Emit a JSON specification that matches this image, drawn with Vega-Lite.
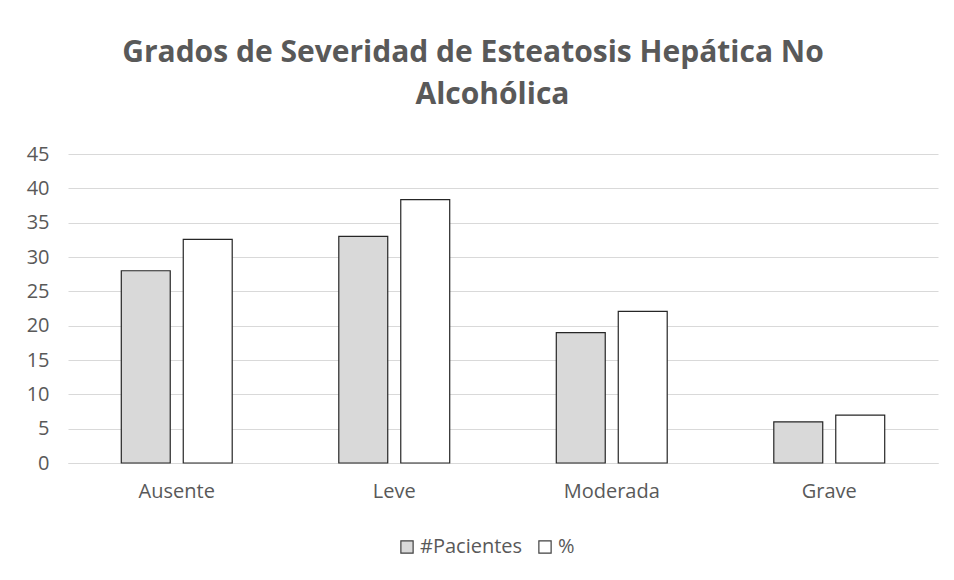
{
  "$schema": "https://vega.github.io/schema/vega-lite/v6.json",
  "autosize": {"type": "none"},
  "width": 870,
  "height": 309,
  "padding": {"left": 68, "top": 154, "right": 16, "bottom": 117},
  "background": "white",
  "title": {
    "text": ["Grados de Severidad de Esteatosis Hepática No", "\u200b\u00a0\u00a0\u00a0\u00a0\u00a0Alcohólica"],
    "anchor": "middle",
    "font": "Open Sans",
    "fontSize": 30,
    "fontWeight": "bold",
    "color": "#595959",
    "lineHeight": 42,
    "offset": 34,
    "dx": -30
  },
  "data": {
    "values": [
      {"grado": "Ausente", "serie": "#Pacientes", "valor": 28},
      {"grado": "Ausente", "serie": "%", "valor": 32.56},
      {"grado": "Leve", "serie": "#Pacientes", "valor": 33},
      {"grado": "Leve", "serie": "%", "valor": 38.37},
      {"grado": "Moderada", "serie": "#Pacientes", "valor": 19},
      {"grado": "Moderada", "serie": "%", "valor": 22.09},
      {"grado": "Grave", "serie": "#Pacientes", "valor": 6},
      {"grado": "Grave", "serie": "%", "valor": 6.98}
    ]
  },
  "mark": {"type": "bar", "stroke": "#262626", "strokeWidth": 1.2},
  "encoding": {
    "x": {
      "field": "grado",
      "type": "nominal",
      "sort": ["Ausente", "Leve", "Moderada", "Grave"],
      "scale": {"paddingInner": 0.49, "paddingOuter": 0.245},
      "axis": {
        "title": null,
        "labelAngle": 0,
        "labelFont": "Open Sans",
        "labelFontSize": 20,
        "labelColor": "#595959",
        "labelPadding": 18,
        "ticks": false,
        "domainColor": "#d9d9d9",
        "domainWidth": 1
      }
    },
    "xOffset": {
      "field": "serie",
      "type": "nominal",
      "sort": ["#Pacientes", "%"],
      "scale": {"paddingInner": 0.21, "paddingOuter": 0}
    },
    "y": {
      "field": "valor",
      "type": "quantitative",
      "scale": {"domain": [0, 45]},
      "axis": {
        "title": null,
        "values": [0, 5, 10, 15, 20, 25, 30, 35, 40, 45],
        "labelFont": "Open Sans",
        "labelFontSize": 20,
        "labelColor": "#595959",
        "labelPadding": 19,
        "ticks": false,
        "domain": false,
        "gridColor": "#d9d9d9",
        "gridWidth": 1
      }
    },
    "fill": {
      "field": "serie",
      "type": "nominal",
      "sort": ["#Pacientes", "%"],
      "scale": {"domain": ["#Pacientes", "%"], "range": ["#d9d9d9", "#ffffff"]},
      "legend": {
        "title": null,
        "orient": "none",
        "direction": "horizontal",
        "legendX": 329,
        "legendY": 383,
        "symbolType": "square",
        "symbolSize": 150,
        "symbolStrokeColor": "#404040",
        "symbolStrokeWidth": 1.2,
        "labelFont": "Open Sans",
        "labelFontSize": 20,
        "labelColor": "#595959",
        "columnPadding": 12,
        "labelOffset": 3
      }
    }
  },
  "config": {"view": {"stroke": null}}
}
